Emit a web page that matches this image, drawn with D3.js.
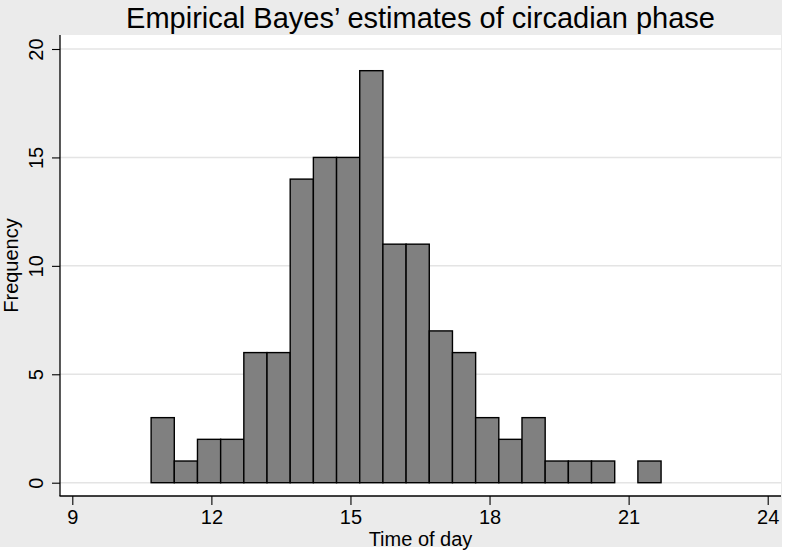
<!DOCTYPE html>
<html>
<head>
<meta charset="utf-8">
<script src="https://cdn.jsdelivr.net/npm/d3@7"></script>
<style>
  body { margin: 0; background: #fff; }
  text { font-family: "Liberation Sans", Arial, Helvetica, sans-serif; fill: #000; }
</style>
</head>
<body>
<div id="chart"></div>
<script>
'use strict'

// histogram bins (hours)
const binEdges = [10.7, 11.2, 11.7, 12.2, 12.7, 13.2, 13.7, 14.2, 14.7, 15.2, 15.7,
  16.2, 16.7, 17.2, 17.7, 18.2, 18.7, 19.2, 19.7, 20.2, 20.7, 21.2, 21.7]
const counts = [3, 1, 2, 2, 6, 6, 14, 15, 15, 19, 11, 11, 7, 6, 3, 2, 3, 1, 1, 1, 0, 1]
const xTicks = [9, 12, 15, 18, 21, 24]
const yTicks = [0, 5, 10, 15, 20]

const W = 785
const H = 554
const plot = { left: 60, right: 781, top: 35, bottom: 496 }

const svg = d3.select('#chart').append('svg')
  .attr('width', W)
  .attr('height', H)

// outer graph region
svg.append('rect')
  .attr('x', 0).attr('y', 0)
  .attr('width', 782).attr('height', 547)
  .attr('fill', '#ebebeb')

svg.append('rect')
  .attr('x', plot.left).attr('y', plot.top)
  .attr('width', plot.right - plot.left)
  .attr('height', plot.bottom - plot.top)
  .attr('fill', '#fff')

const x = d3.scaleLinear().domain([9, 24]).range([72.3, 767.7])
const y = d3.scaleLinear().domain([0, 20]).range([482.7, 49])

// grid
svg.append('g').selectAll('line')
  .data(yTicks)
  .join('line')
  .attr('x1', plot.left).attr('x2', plot.right)
  .attr('y1', d => y(d)).attr('y2', d => y(d))
  .attr('stroke', '#e4e4e4')
  .attr('stroke-width', 1.5)

// bars
const bins = counts.map((c, i) => ({ x0: binEdges[i], x1: binEdges[i + 1], n: c }))
  .filter(d => d.n > 0)

svg.append('g').selectAll('rect')
  .data(bins)
  .join('rect')
  .attr('x', d => x(d.x0))
  .attr('y', d => y(d.n))
  .attr('width', d => x(d.x1) - x(d.x0))
  .attr('height', d => y(0) - y(d.n))
  .attr('fill', '#808080')
  .attr('stroke', '#000')
  .attr('stroke-width', 1.4)

// axes
const xAxis = svg.append('g')
  .attr('transform', 'translate(0,' + plot.bottom + ')')
  .call(d3.axisBottom(x).tickValues(xTicks).tickSize(9).tickPadding(5))
xAxis.select('.domain').remove()
xAxis.append('line')
  .attr('x1', plot.left - 0.5).attr('x2', plot.right)
  .attr('stroke', '#000').attr('stroke-width', 1.3)
xAxis.selectAll('.tick line').attr('stroke-width', 1.1)
xAxis.selectAll('.tick text')
  .style('font-size', '20px')
  .style('font-family', '"Liberation Sans", Arial, sans-serif')
  .attr('fill', '#000')

const yAxis = svg.append('g')
  .attr('transform', 'translate(' + plot.left + ',0)')
  .call(d3.axisLeft(y).tickValues(yTicks).tickSize(8))
yAxis.select('.domain').remove()
yAxis.append('line')
  .attr('y1', plot.top).attr('y2', plot.bottom)
  .attr('stroke', '#000').attr('stroke-width', 1.3)
yAxis.selectAll('.tick line').attr('stroke-width', 1.1)
yAxis.selectAll('.tick text')
  .attr('x', null).attr('dy', null)
  .attr('transform', 'translate(-17,0) rotate(-90)')
  .attr('text-anchor', 'middle')
  .style('font-size', '20px')
  .style('font-family', '"Liberation Sans", Arial, sans-serif')
  .attr('fill', '#000')

// titles
const midX = (plot.left + plot.right) / 2
svg.append('text')
  .attr('x', midX).attr('y', 28)
  .attr('text-anchor', 'middle')
  .style('font-size', '29px')
  .text('Empirical Bayes’ estimates of circadian phase')

svg.append('text')
  .attr('x', midX).attr('y', 546)
  .attr('text-anchor', 'middle')
  .style('font-size', '20px')
  .text('Time of day')

svg.append('text')
  .attr('transform', 'translate(18,' + (plot.top + plot.bottom) / 2 + ') rotate(-90)')
  .attr('text-anchor', 'middle')
  .style('font-size', '20px')
  .text('Frequency')
</script>
</body>
</html>
